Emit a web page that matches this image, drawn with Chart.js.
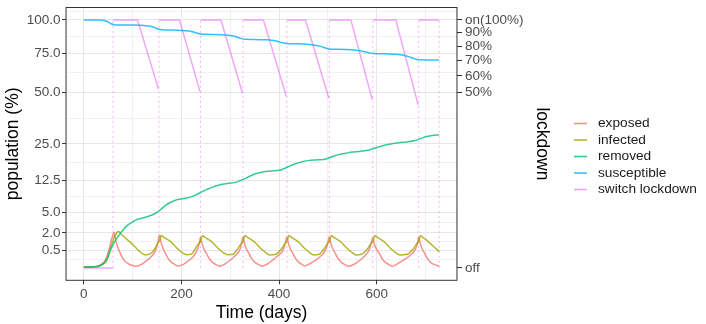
<!DOCTYPE html>
<html>
<head>
<meta charset="utf-8">
<title>SEIR with switching lockdown</title>
<script src="https://cdn.jsdelivr.net/npm/chart.js@4"></script>
<style>
  html, body { margin: 0; padding: 0; background: #fff; }
  #wrap { width: 706px; height: 324px; position: relative; }
</style>
</head>
<body>
<div id="wrap"><canvas id="chart"></canvas></div>
<script>
// values (x = day, y = % of population)
const exposedDays = [
    0, 20, 30, 38, 44, 48, 52, 55, 58, 62,
    65, 69, 74, 80, 86, 93, 100, 107, 118, 128, 138, 147, 151, 155,
    158, 162, 167, 173, 179, 186, 193, 204, 214, 224, 232, 236, 239,
    242, 246, 251, 257, 263, 270, 278, 289, 299, 309, 319, 323, 326,
    329, 333, 338, 344, 350, 357, 365, 376, 386, 396, 408, 412, 416,
    419, 423, 428, 434, 440, 447, 452, 462, 474, 485, 495, 499, 503,
    506, 510, 515, 521, 527, 534, 542, 555, 565, 575, 584, 588, 592,
    595, 599, 605, 611, 617, 624, 632, 647, 659, 669, 678, 683, 686,
    689, 693, 698, 704, 710, 717, 724, 728,
];
const exposedVals = [
    0.001, 0.002, 0.006, 0.03, 0.1, 0.25, 0.6, 1.0, 1.5, 2.05,
    1.35, 0.75, 0.38, 0.15, 0.06, 0.022, 0.009, 0.005, 0.02, 0.08, 0.2, 0.5, 0.9, 1.75,
    1.1, 0.65, 0.35, 0.14, 0.055, 0.02, 0.006, 0.02, 0.08, 0.2, 0.5, 0.9, 1.5,
    1.0, 0.6, 0.35, 0.14, 0.055, 0.02, 0.005, 0.025, 0.09, 0.22, 0.5, 0.9, 1.55,
    1.0, 0.6, 0.35, 0.14, 0.055, 0.02, 0.005, 0.025, 0.09, 0.22, 0.5, 0.9, 1.55,
    1.0, 0.6, 0.35, 0.14, 0.055, 0.02, 0.006, 0.025, 0.09, 0.22, 0.5, 0.9, 1.55,
    1.0, 0.6, 0.35, 0.14, 0.055, 0.02, 0.005, 0.025, 0.09, 0.22, 0.5, 0.9, 1.45,
    0.95, 0.6, 0.35, 0.14, 0.055, 0.02, 0.005, 0.05, 0.13, 0.27, 0.5, 0.9, 1.55,
    1.0, 0.6, 0.35, 0.14, 0.055, 0.02, 0.009, 0.006,
];

const infectedDays = [
    0, 20, 32, 40, 46, 50, 53, 57, 60, 64, 68, 71,
    75, 82, 89, 100, 112, 118, 124, 132, 140, 146, 151, 155, 159,
    162, 170, 178, 191, 203, 210, 220, 229, 235, 239, 243,
    246, 254, 262, 275, 287, 294, 305, 316, 322, 326, 330,
    333, 341, 349, 362, 374, 381, 393, 406, 412, 416, 420,
    423, 431, 439, 452, 464, 471, 482, 493, 499, 503, 507,
    510, 518, 526, 539, 551, 558, 569, 582, 588, 592, 596,
    599, 607, 615, 628, 640, 648, 662, 676, 682, 686, 690,
    693, 701, 709, 718, 728,
];
const infectedVals = [
    0.001, 0.002, 0.006, 0.025, 0.07, 0.2, 0.42, 0.85, 1.25, 1.7, 2.05, 2.15,
    1.95, 1.6, 1.3, 0.9, 0.5, 0.36, 0.28, 0.29, 0.4, 0.63, 0.95, 1.2, 1.7,
    1.6, 1.35, 1.12, 0.63, 0.36, 0.28, 0.3, 0.63, 0.95, 1.15, 1.7,
    1.6, 1.35, 1.12, 0.63, 0.36, 0.28, 0.3, 0.63, 0.95, 1.15, 1.7,
    1.6, 1.35, 1.12, 0.63, 0.36, 0.27, 0.3, 0.63, 0.95, 1.15, 1.7,
    1.6, 1.35, 1.12, 0.63, 0.36, 0.27, 0.3, 0.63, 0.95, 1.15, 1.7,
    1.6, 1.35, 1.12, 0.63, 0.36, 0.27, 0.3, 0.63, 0.95, 1.15, 1.7,
    1.6, 1.35, 1.12, 0.63, 0.36, 0.27, 0.3, 0.63, 0.95, 1.15, 1.7,
    1.55, 1.3, 1.0, 0.7, 0.43,
];

const removedDays = [
    0, 30, 40, 46, 50, 55, 60, 67, 73, 80, 87, 97, 107, 118, 128, 138, 148, 158, 168, 178,
    189, 199, 209, 220, 230, 240, 250, 260, 270, 281, 291, 301, 311, 322, 332, 342, 352, 362, 372, 385,
    401, 411, 421, 435, 449, 462, 480, 496, 510, 525, 537, 550, 564, 578, 591, 604, 618, 632, 645, 660,
    679, 690, 700, 714, 728,
];
const removedVals = [
    0.001, 0.005, 0.03, 0.1, 0.25, 0.55, 0.9, 1.4, 1.8, 2.3, 2.8, 3.3, 3.75, 4.0, 4.2, 4.5, 4.9, 5.6, 6.4, 7.0,
    7.5, 7.7, 7.9, 8.2, 8.7, 9.3, 9.9, 10.4, 10.9, 11.3, 11.5, 11.7, 11.9, 12.5, 13.1, 13.8, 14.4, 14.8, 15.1, 15.3,
    15.5, 16.1, 16.8, 17.7, 18.4, 18.8, 19.0, 19.3, 20.2, 21.0, 21.4, 21.8, 22.0, 22.4, 23.0, 23.8, 24.6, 25.1, 25.5, 25.8,
    26.4, 27.2, 28.0, 28.5, 28.8,
];

const susceptibleDays = [
    0, 30, 40, 47, 52, 56, 62, 75, 100, 115, 130, 140, 147, 153, 160, 180, 200, 215, 225, 233,
    240, 250, 280, 300, 312, 320, 327, 340, 370, 385, 398, 407, 415, 430, 455, 470, 485, 495, 503, 520,
    547, 565, 578, 587, 594, 620, 640, 655, 667, 677, 686, 700, 728,
];
const susceptibleVals = [
    100, 99.9, 99.6, 98.9, 97.8, 96.9, 96.2, 96.0, 95.9, 95.7, 95.2, 94.6, 93.7, 92.6, 92.2, 92.0, 91.7, 91.2, 90.5, 89.5,
    88.9, 88.7, 88.4, 87.8, 86.9, 85.8, 85.1, 84.9, 84.6, 84.3, 83.4, 82.4, 81.9, 81.7, 81.4, 80.8, 79.8, 78.6, 77.9, 77.7,
    77.3, 76.7, 75.8, 75.0, 74.7, 74.5, 74.2, 73.5, 72.4, 71.2, 70.4, 70.3, 70.3,
];

// lockdown level (0 = off, 100 = fully on); null breaks the line at each switch
const lockdownDays = [
    0, 60, 60, 60, 110, 153, 153, 154, 196, 238, 238, 239, 281, 325, 325, 326, 368, 415, 415,
    416, 454, 502, 502, 503, 547, 591, 591, 592, 639, 685, 685, 686, 728,
];
const lockdownVals = [
    0, 0, null, 100, 100, 52, null, 100, 100, 50.5, null, 100, 100, 49.6, null, 100, 100, 47.7, null,
    100, 100, 46.8, null, 100, 100, 45.9, null, 100, 100, 43.2, null, 100, 100,
];
const switchDays = [60, 154, 239, 326, 416, 503, 592, 686, 728];

const seriesNames = ['exposed', 'infected', 'removed', 'susceptible', 'switch lockdown'];
const seriesColors = ['#F8766D', '#A3A500', '#00BF7D', '#00B0F6', '#E76BF3'];

// axis breaks
const popTicks = [0.5, 2, 5, 12.5, 25, 50, 75, 100];
const popLabels = ['0.5', '2.0', '5.0', '12.5', '25.0', '50.0', '75.0', '100.0'];
const popMinor = [0.125, 1.125, 3.33, 8.33, 18.21, 36.43, 61.87, 87.05, 107.2];
const lockTicks = [0, 50, 60, 70, 80, 90, 100];
const lockLabels = ['off', '50%', '60%', '70%', '80%', '90%', 'on(100%)'];
const dayTicks = [0, 200, 400, 600];
const dayMinor = [100, 300, 500, 700];

// square-root y scale (ggplot's sqrt transform)
const tr = v => Math.sign(v) * Math.sqrt(Math.abs(v));
const inv = t => Math.sign(t) * t * t;

class SqrtScale extends Chart.LinearScale {
    getPixelForValue(value) {
        const a = tr(this.min), b = tr(this.max);
        return this.getPixelForDecimal((tr(value) - a) / (b - a));
    }
    getValueForPixel(pixel) {
        const a = tr(this.min), b = tr(this.max);
        return inv(a + this.getDecimalForPixel(pixel) * (b - a));
    }
}
SqrtScale.id = 'sqrt';
SqrtScale.defaults = Chart.LinearScale.defaults;
Chart.register(SqrtScale);

const FONT = '"Liberation Sans", Arial, sans-serif';
Chart.defaults.font.family = FONT;

const pts = (days, vals) => days.map((d, i) => ({ x: d, y: vals[i] }));
const fade = (hex, a) => {
    const n = parseInt(hex.slice(1), 16);
    return `rgba(${n >> 16}, ${(n >> 8) & 255}, ${n & 255}, ${a})`;
};

const noPad = axis => {
    axis.paddingTop = 0;
    axis.paddingBottom = 0;
    axis.paddingLeft = 0;
    axis.paddingRight = 0;
};
const gridColor = minor => c => (c.tick && minor.includes(c.tick.value) ? '#F1F1F1' : '#E6E6E6');
const tickColor = minor => c => (c.tick && minor.includes(c.tick.value) ? 'rgba(0,0,0,0)' : '#333333');
const tickFont = { size: 13.5, lineHeight: 1.2 };
const titleFont = { size: 17.5, lineHeight: 1 };

// ggplot-style panel border, drawn over the lines
const panelBorder = {
    id: 'panelBorder',
    afterDatasetsDraw(chart) {
        const { ctx, chartArea: a } = chart;
        ctx.save();
        ctx.strokeStyle = '#333333';
        ctx.lineWidth = 1;
        ctx.strokeRect(a.left, a.top, a.right - a.left, a.bottom - a.top);
        ctx.restore();
    },
};

// legend to the right of the lockdown axis
const sideLegend = {
    id: 'sideLegend',
    afterDraw(chart) {
        const { ctx, chartArea } = chart;
        const x0 = chartArea.right + 117;
        ctx.save();
        ctx.font = `13.7px ${FONT}`;
        ctx.textBaseline = 'middle';
        seriesNames.forEach((name, i) => {
            const y = 123.5 + i * 16.5;
            ctx.strokeStyle = fade(seriesColors[i], i === 4 ? 0.65 : 0.85);
            ctx.lineWidth = 1.5;
            ctx.beginPath();
            ctx.moveTo(x0, y);
            ctx.lineTo(x0 + 13, y);
            ctx.stroke();
            ctx.fillStyle = '#1A1A1A';
            ctx.fillText(name, x0 + 24, y);
        });
        ctx.restore();
    },
};

const curve = (i, days, vals, order) => ({
    label: seriesNames[i],
    data: pts(days, vals),
    borderColor: fade(seriesColors[i], 0.8),
    borderWidth: 1.5,
    pointRadius: 0,
    cubicInterpolationMode: 'monotone',
    order: order,
});

const ctx = document.getElementById('chart').getContext('2d');
const chart = new Chart(ctx, {
    type: 'line',
    data: {
        datasets: [
            curve(0, exposedDays, exposedVals, 5),
            curve(1, infectedDays, infectedVals, 4),
            curve(2, removedDays, removedVals, 3),
            curve(3, susceptibleDays, susceptibleVals, 2),
            {
                label: 'switch lockdown',
                data: pts(lockdownDays, lockdownVals),
                borderColor: fade(seriesColors[4], 0.6),
                borderWidth: 1.5,
                pointRadius: 0,
                spanGaps: false,
                order: 6,
            },
            {
                label: 'switch',
                data: switchDays.flatMap(d => [{ x: d, y: 0 }, { x: d, y: 100 }, { x: d, y: null }]),
                borderColor: fade(seriesColors[4], 0.5),
                borderWidth: 1,
                borderDash: [2, 3],
                pointRadius: 0,
                spanGaps: false,
                order: 7,
            },
        ],
    },
    options: {
        responsive: true,
        maintainAspectRatio: false,
        animation: false,
        layout: { padding: { left: 0, top: 7.5, right: 151, bottom: 0 } },
        scales: {
            x: {
                type: 'linear',
                min: -36.4,
                max: 764.4,
                afterBuildTicks: axis => {
                    axis.ticks = dayTicks.concat(dayMinor).map(v => ({ value: v }));
                },
                afterFit: noPad,
                ticks: {
                    autoSkip: false,
                    maxRotation: 0,
                    padding: 2,
                    color: '#4D4D4D',
                    font: tickFont,
                    callback: v => (dayTicks.includes(v) ? String(v) : ''),
                },
                grid: {
                    color: gridColor(dayMinor),
                    lineWidth: 1,
                    tickLength: 4,
                    tickColor: tickColor(dayMinor),
                },
                border: { display: false },
                title: {
                    display: true,
                    text: 'Time (days)',
                    color: '#000000',
                    font: titleFont,
                    padding: { top: 0, bottom: 2 },
                },
            },
            y: {
                type: 'sqrt',
                position: 'left',
                min: -0.25,
                max: 110.25,
                afterBuildTicks: axis => {
                    axis.ticks = popTicks.concat(popMinor).map(v => ({ value: v }));
                },
                afterFit: noPad,
                ticks: {
                    autoSkip: false,
                    padding: 1.5,
                    color: '#4D4D4D',
                    font: tickFont,
                    callback: v => (popTicks.includes(v) ? popLabels[popTicks.indexOf(v)] : ''),
                },
                grid: {
                    color: gridColor(popMinor),
                    lineWidth: 1,
                    tickLength: 4,
                    tickColor: tickColor(popMinor),
                },
                border: { display: false },
                title: {
                    display: true,
                    text: 'population (%)',
                    color: '#000000',
                    font: titleFont,
                    padding: { top: 4.25, bottom: 3.5 },
                },
            },
            y2: {
                type: 'sqrt',
                position: 'right',
                min: -0.25,
                max: 110.25,
                afterBuildTicks: axis => {
                    axis.ticks = lockTicks.map(v => ({ value: v }));
                },
                afterFit: noPad,
                ticks: {
                    autoSkip: false,
                    padding: 3,
                    color: '#4D4D4D',
                    font: tickFont,
                    callback: v => lockLabels[lockTicks.indexOf(v)],
                },
                grid: { drawOnChartArea: false, tickLength: 5, tickColor: '#333333' },
                border: { display: false },
                title: {
                    display: true,
                    text: 'lockdown',
                    color: '#000000',
                    font: titleFont,
                    padding: { top: 4, bottom: 7 },
                },
            },
        },
        plugins: {
            legend: { display: false },
            tooltip: { enabled: false },
        },
    },
    plugins: [panelBorder, sideLegend],
});
</script>
</body>
</html>
